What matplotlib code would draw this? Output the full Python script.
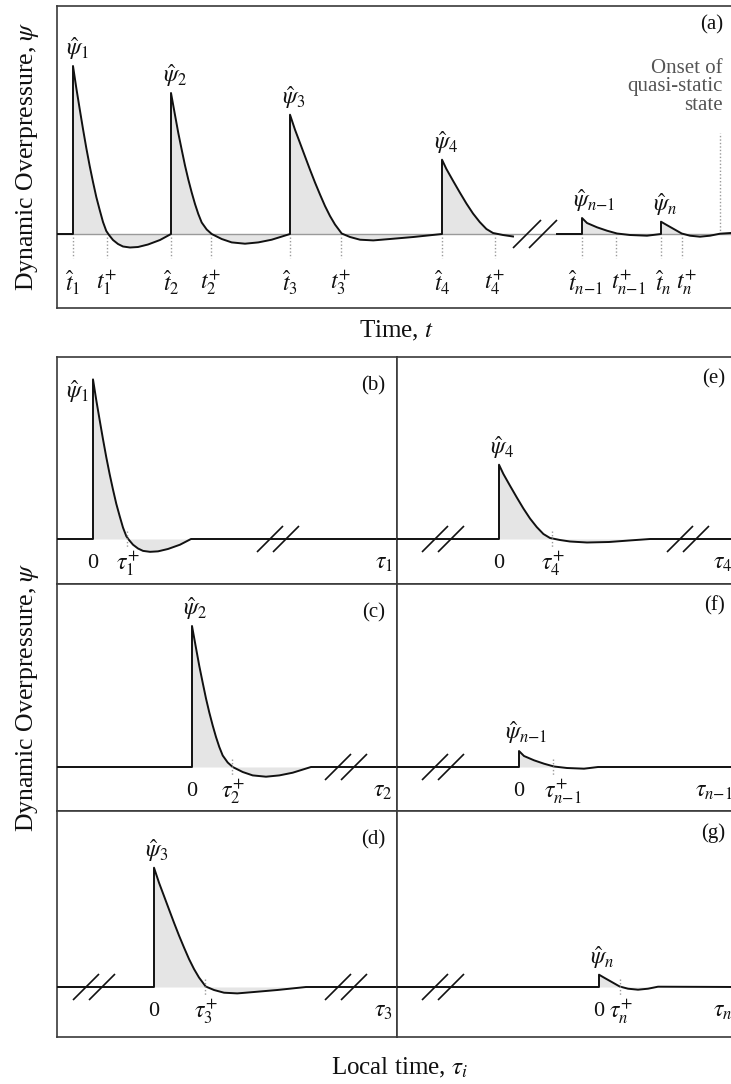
import matplotlib.pyplot as plt

plt.rcParams['font.family'] = ['Liberation Serif', 'DejaVu Serif']
plt.rcParams['mathtext.fontset'] = 'stix'

W, H = 731, 1084

# === panel (a): arrival times, positive-phase ends (time units) ===
t_hat = [16, 114, 233, 385, 525, 604]
t_plus = [50, 154, 284, 438, 559, 625]
t_onset = 663            # onset of quasi-static state
t_break = [456, 500]     # axis break between pulse 4 and pulse n-1
psi_end = 1.5            # overpressure at right edge of (a)

# === pulse shapes: time since arrival, overpressure ===
p1_dt = [0, 3.3, 6.7, 10, 13.3, 16.7, 20, 23.3, 26.7, 30, 33.3, 36, 40, 45, 50, 57, 65, 75, 87, 98]
p1_psi = [168, 146, 125, 105, 86, 68, 52, 37, 24, 12, 3, -1, -6, -10, -12.5, -13.5, -13, -10.5, -6, 0]

p2_dt = [0, 4, 7.3, 10.7, 14, 17.3, 20.7, 24, 27.3, 30.7, 35.7, 40.7, 50.7, 60.7, 74, 87.3, 100.7, 119]
p2_psi = [141, 119, 101, 84.3, 68.5, 54.5, 41.5, 30, 20, 11.5, 4.5, 0, -5, -8.4, -9.7, -8.4, -5.7, 0]

p3_dt = [0, 5, 10, 15, 20, 25, 30, 35, 40, 45, 51.7, 60, 70, 83.3, 100, 123.3, 152]
p3_psi = [119.3, 104.3, 91, 77.6, 64.3, 51.5, 39.5, 28, 18, 9.5, 0.5, -3, -5.7, -6.4, -5, -3, 0]

p4_dt = [0, 4.4, 11, 17.7, 24.4, 31, 37.7, 44.4, 51, 61, 71, 88, 110, 130, 151]
p4_psi = [74.3, 65, 53.3, 41.7, 30.5, 20.5, 12, 5, 1, -1, -2.5, -3.5, -3, -1.5, 0]

pn1_dt = [0, 5, 15, 25, 35, 48, 65, 79]
pn1_psi = [16, 11, 6.7, 3.3, 0.5, -1, -1.7, 0]

pn_dt = [0, 5.7, 14, 20.7, 29, 39, 49, 59]
pn_psi = [12.3, 9, 4.3, 0.5, -1.7, -2.7, -1.7, 0.3]

pulse_dt = [p1_dt, p2_dt, p3_dt, p4_dt, pn1_dt, pn_dt]
pulse_psi = [p1_psi, p2_psi, p3_psi, p4_psi, pn1_psi, pn_psi]
subs = ['1', '2', '3', '4', r'n{-}\mathit{1}', 'n']

# === panels (b)-(g): local time of arrival, breaks, scale ===
sub_letters = ['b', 'c', 'd', 'e', 'f', 'g']
sub_onset = [36, 135, 97, 102, 122, 202]
sub_breaks = [[221], [289], [37, 289], [46, 291], [46], [46]]
sub_scale = [0.95, 1, 1, 1, 1, 1]

FILL = '#e5e5e5'
INK = '#111111'
FRAME = '#3a3a3a'
FS_MATH = 17


def add_ax(left, top, right, bottom):
    ax = fig.add_axes([left / W, 1 - bottom / H, (right - left) / W, (bottom - top) / H])
    ax.set_xticks([])
    ax.set_yticks([])
    for s in ax.spines.values():
        s.set_color(FRAME)
        s.set_linewidth(1.2)
    return ax


def draw_break(ax, xc, half=13, gap=8):
    for off in (-gap, gap):
        ax.plot([xc + off - half, xc + off + half], [-half, half], color=INK, lw=1.2,
                zorder=5, solid_capstyle='butt')


def pulse_points(t0, k, scale=1.0, t_max=None):
    xs, ys = [t0], [0]
    for d, p in zip(pulse_dt[k], pulse_psi[k]):
        if t_max is not None and t0 + d > t_max:
            break
        xs.append(t0 + d)
        ys.append(p * scale)
    return xs, ys


fig = plt.figure(figsize=(W / 100, H / 100), dpi=100)

# ---------------- panel (a) ----------------
ax = add_ax(57, 6, 738, 308)
ax.set_xlim(0, 681)
ax.set_ylim(-74, 228)
ax.axhline(0, color='#9a9a9a', lw=1.0, zorder=2)

segs = [([0], [0]), ([t_break[1]], [0])]
for k in range(6):
    seg = segs[0] if k < 4 else segs[1]
    xs, ys = pulse_points(t_hat[k], k, t_max=t_break[0] if k == 3 else None)
    seg[0].extend(xs)
    seg[1].extend(ys)
segs[1][0].append(681)
segs[1][1].append(psi_end)

for xs, ys in segs:
    ax.fill_between(xs, ys, 0, color=FILL, lw=0, zorder=1)
    ax.plot(xs, ys, color=INK, lw=1.4, zorder=3, solid_joinstyle='round')

draw_break(ax, (t_break[0] + t_break[1]) / 2, half=14)

for t in t_hat + t_plus:
    ax.plot([t, t], [-3, -24], color='#9a9a9a', lw=1, ls=(0, (1, 1.5)), zorder=2)
ax.plot([t_onset, t_onset], [0, 101], color='#9a9a9a', lw=1, ls=(0, (1, 1.5)), zorder=2)

hat_dx = [0, 0, 0, 0, 4, 2]
plus_dx = [0, 0, 0, 0, 12, 5]
for k in range(6):
    ax.text(t_hat[k] + hat_dx[k], -49, r'$\hat{t}_{%s}$' % subs[k], fontsize=FS_MATH,
            ha='center', va='center', color=INK)
    ax.text(t_plus[k] + plus_dx[k], -49, r'$t_{%s}^{+}$' % subs[k], fontsize=FS_MATH,
            ha='center', va='center', color=INK)
    peak = pulse_psi[k][0]
    if k == 4:
        ax.text(t_hat[k] - 9, peak + 4, r'$\hat{\psi}_{%s}$' % subs[k], fontsize=FS_MATH,
                ha='left', va='bottom', color=INK)
    else:
        ax.text(t_hat[k] + 4, peak + 4, r'$\hat{\psi}_{%s}$' % subs[k], fontsize=FS_MATH,
                ha='center', va='bottom', color=INK)

ax.text(666, 147, 'Onset of\nquasi-static\nstate', fontsize=15, ha='right', va='center',
        color='#555555', linespacing=0.98)
ax.text(1 - 15 / 681, 1 - 19 / 302, '(a)', transform=ax.transAxes, fontsize=15,
        ha='right', va='center', color=INK)

# ---------------- panels (b)-(g) ----------------
rows = [(357, 584, -45, 182), (584, 811, -44, 183), (811, 1037, -50, 176)]
cols = [57, 397]
for i in range(6):
    col, row = divmod(i, 3)
    top, bottom, y0, y1 = rows[row]
    left = cols[col]
    sax = add_ax(left, top, left + 340, bottom)
    sax.set_xlim(0, 340)
    sax.set_ylim(y0, y1)

    x0 = sub_onset[i]
    xs, ys = pulse_points(x0, i, scale=sub_scale[i])
    xs = [0] + xs + [340]
    ys = [0] + ys + [0]
    sax.fill_between(xs, ys, 0, color=FILL, lw=0, zorder=1)
    sax.plot(xs, ys, color=INK, lw=1.4, zorder=3, solid_joinstyle='round')
    for b in sub_breaks[i]:
        draw_break(sax, b)

    xp = x0 + (t_plus[i] - t_hat[i])
    sax.plot([xp, xp], [8, -9], color='#9a9a9a', lw=1, ls=(0, (1, 1.5)), zorder=4)

    sax.text(x0, -25, '0', fontsize=16, ha='center', va='center', color=INK)
    sax.text(xp + (10 if i == 4 else 1), -25, r'$\tau_{%s}^{+}$' % subs[i], fontsize=FS_MATH,
             ha='center', va='center', color=INK)
    sax.text(336, -25, r'$\tau_{%s}$' % subs[i], fontsize=FS_MATH, ha='right', va='center',
             color=INK)

    peak = pulse_psi[i][0] * sub_scale[i]
    if i == 0:
        sax.text(x0 - 4, peak + 1, r'$\hat{\psi}_{%s}$' % subs[i], fontsize=FS_MATH,
                 ha='right', va='top', color=INK)
    elif i == 4:
        sax.text(x0 - 14, peak + 5, r'$\hat{\psi}_{%s}$' % subs[i], fontsize=FS_MATH,
                 ha='left', va='bottom', color=INK)
    else:
        sax.text(x0 + 3, peak + 4, r'$\hat{\psi}_{%s}$' % subs[i], fontsize=FS_MATH,
                 ha='center', va='bottom', color=INK)

    dy = 29 if col == 0 else 22
    sax.text(1 - 12 / 340, 1 - dy / (bottom - top), '(%s)' % sub_letters[i],
             transform=sax.transAxes, fontsize=15, ha='right', va='center', color=INK)

# axis titles
fig.text(28 / W, 1 - 156 / H, r'Dynamic Overpressure, $\psi$', rotation=90, fontsize=18.5,
         ha='center', va='center', color=INK)
fig.text(28 / W, 1 - 697 / H, r'Dynamic Overpressure, $\psi$', rotation=90, fontsize=18.5,
         ha='center', va='center', color=INK)
fig.text(396 / W, 1 - 331 / H, r'Time, $t$', fontsize=18, ha='center', va='center', color=INK)
fig.text(399 / W, 1 - 1068 / H, r'Local time, $\tau_i$', fontsize=18, ha='center',
         va='center', color=INK)

fig.savefig('out.png', dpi=100)
